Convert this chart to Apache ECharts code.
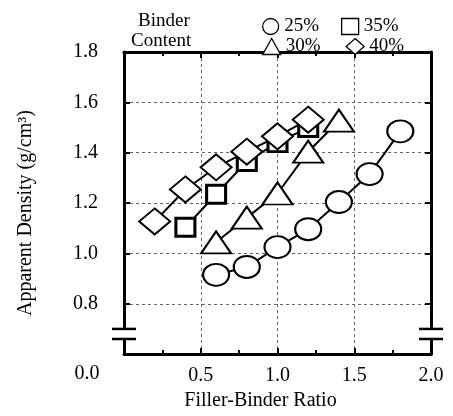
<!DOCTYPE html>
<html>
<head>
<meta charset="utf-8">
<script src="https://cdn.jsdelivr.net/npm/echarts@6/dist/echarts.min.js"></script>
<style>
  html, body { margin: 0; padding: 0; background: #fff; }
  #chart_density { width: 453px; height: 416px; }
</style>
</head>
<body>
<div id="chart_density"></div>
<script>
// 数据：填料/胶结料比 vs 表观密度
const x25 = [0.6, 0.8, 1.0, 1.2, 1.4, 1.6, 1.8];
const y25 = [0.915, 0.946, 1.025, 1.096, 1.204, 1.315, 1.485];
const x30 = [0.6, 0.8, 1.0, 1.2, 1.4];
const y30 = [1.044, 1.142, 1.238, 1.404, 1.527];
const x35 = [0.4, 0.6, 0.8, 1.0, 1.2];
const y35 = [1.104, 1.235, 1.365, 1.44, 1.50];
const x40 = [0.2, 0.4, 0.6, 0.8, 1.0, 1.2];
const y40 = [1.127, 1.254, 1.342, 1.404, 1.465, 1.531];
const seriesNames = ['25%', '30%', '35%', '40%'];
const yMin = 0.6, yMax = 1.8, yStep = 0.2;
const xMin = 0, xMax = 2, xStep = 0.5;
const breakVals = [0.7, 0.66]; // 坐标轴断开符号

const font = 'Liberation Serif, Times New Roman, serif';
const pair = (xs, ys) => xs.map((x, i) => [x, ys[i]]);

let myChart = echarts.init(document.getElementById('chart_density'));

function mkSeries(name, data, symbol, size, bw) {
    return {
        name: name,
        type: 'line',
        data: data,
        symbol: symbol,
        symbolSize: size,
        lineStyle: {color: '#000', width: 2},
        itemStyle: {color: '#fff', borderColor: '#000', borderWidth: bw},
        emphasis: {disabled: true}
    };
}

const gridLine = {show: true, lineStyle: {color: '#666', type: [3, 3], width: 1}};
const tickIn = {show: true, inside: true, length: 6, lineStyle: {color: '#000', width: 2}};
const minorIn = {show: true, splitNumber: 2, length: 4, lineStyle: {color: '#000', width: 2}};
const legendIcon = {color: '#fff', borderColor: '#000', borderWidth: 1.3};
const legendText = {fontFamily: font, fontSize: 19, color: '#000'};

let options = {
    animation: false,
    grid: {left: 124, right: 22, top: 52, bottom: 53},
    legend: [
        {
            data: [{name: '25%', icon: 'circle'}, {name: '35%', icon: 'rect'}],
            left: 257, top: 12, selectedMode: false,
            itemWidth: 17, itemHeight: 16, itemGap: 22, itemTextGap: 20,
            itemStyle: legendIcon, textStyle: legendText
        },
        {
            data: [{name: '30%', icon: 'triangle'}, {name: '40%', icon: 'diamond'}],
            left: 257, top: 32, selectedMode: false,
            itemWidth: 18, itemHeight: 16, itemGap: 25, itemTextGap: 13,
            itemStyle: legendIcon, textStyle: legendText
        }
    ],
    xAxis: [
        {
            type: 'value', min: xMin, max: xMax, interval: xStep,
            name: 'Filler-Binder Ratio', nameLocation: 'middle', nameGap: 33,
            nameTextStyle: {fontFamily: font, fontSize: 20, color: '#000', padding: [0, 34, 0, 0]},
            axisLine: {show: true, onZero: false, lineStyle: {color: '#000', width: 3}},
            axisTick: tickIn, minorTick: minorIn,
            axisLabel: {
                margin: 12, fontFamily: font, fontSize: 20, color: '#000',
                formatter: v => v === 0 ? '' : v.toFixed(1)
            },
            splitLine: gridLine
        },
        {
            type: 'value', position: 'top', min: xMin, max: xMax, interval: xStep,
            axisLine: {show: true, onZero: false, lineStyle: {color: '#000', width: 3}},
            axisTick: tickIn, minorTick: minorIn,
            axisLabel: {show: false}, splitLine: {show: false}
        }
    ],
    yAxis: [
        {
            type: 'value', min: yMin, max: yMax, interval: yStep,
            name: 'Apparent Density (g/cm³)', nameLocation: 'middle', nameGap: 88, nameRotate: 90,
            nameTextStyle: {fontFamily: font, fontSize: 20, color: '#000', padding: [0, 20, 0, 0]},
            axisLine: {show: true, onZero: false, lineStyle: {color: '#000', width: 3}},
            axisTick: tickIn,
            axisLabel: {
                margin: 26, fontFamily: font, fontSize: 20, color: '#000',
                formatter: v => Math.abs(v - yMin) < 1e-6 ? '' : v.toFixed(1)
            },
            splitLine: gridLine
        },
        {
            type: 'value', position: 'right', min: yMin, max: yMax, interval: yStep,
            axisLine: {show: true, onZero: false, lineStyle: {color: '#000', width: 3}},
            axisTick: tickIn,
            axisLabel: {show: false}, splitLine: {show: false}
        }
    ],
    series: [
        mkSeries(seriesNames[0], pair(x25, y25), 'circle', [26, 22], 2),
        mkSeries(seriesNames[1], pair(x30, y30), 'triangle', [30, 22], 2),
        mkSeries(seriesNames[2], pair(x35, y35), 'rect', [19, 18], 3),
        mkSeries(seriesNames[3], pair(x40, y40), 'diamond', [31, 26], 2)
    ]
};
myChart.setOption(options);

// 图例左侧文字、原点标签、断轴符号
const yA = myChart.convertToPixel({yAxisIndex: 0}, breakVals[0]);
const yB = myChart.convertToPixel({yAxisIndex: 0}, breakVals[1]);
const xL = myChart.convertToPixel({xAxisIndex: 0}, xMin);
const xR = myChart.convertToPixel({xAxisIndex: 0}, xMax);
const yBottom = myChart.convertToPixel({yAxisIndex: 0}, yMin);

function breakMark(x) {
    return [
        {type: 'rect', shape: {x: x - 3, y: yA, width: 6, height: yB - yA}, style: {fill: '#fff'}, z: 100},
        {type: 'line', shape: {x1: x - 12, y1: yA, x2: x + 12, y2: yA}, style: {stroke: '#000', lineWidth: 2.5}, z: 101},
        {type: 'line', shape: {x1: x - 12, y1: yB, x2: x + 12, y2: yB}, style: {stroke: '#000', lineWidth: 2.5}, z: 101}
    ];
}

myChart.setOption({
    graphic: [
        {type: 'text', left: 138, top: 12, style: {text: 'Binder', font: '19px ' + font, fill: '#000'}},
        {type: 'text', left: 131, top: 32, style: {text: 'Content', font: '19px ' + font, fill: '#000'}},
        {type: 'text', x: xL - 37, y: yBottom + 20,
            style: {text: '0.0', font: '20px ' + font, fill: '#000', align: 'center', verticalAlign: 'middle'}}
    ].concat(breakMark(xL), breakMark(xR))
});
</script>
</body>
</html>
